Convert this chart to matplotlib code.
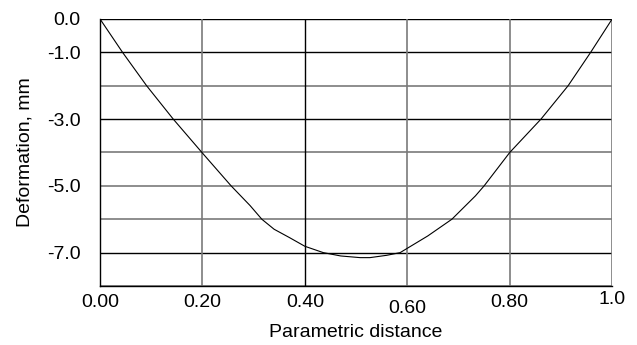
import matplotlib
matplotlib.use("Agg")
from matplotlib import pyplot as plt

plt.rcParams['font.family'] = ['Liberation Sans', 'DejaVu Sans']

# curve
dist = [0.0, 0.044, 0.091, 0.143, 0.199, 0.256, 0.293, 0.316, 0.34, 0.37,
        0.40, 0.436, 0.47, 0.508, 0.527, 0.56, 0.586, 0.60, 0.64, 0.687,
        0.733, 0.75, 0.80, 0.861, 0.914, 0.958, 1.0]
deform = [0.0, -1.0, -2.0, -3.0, -4.0, -5.0, -5.59, -6.0, -6.3, -6.55,
          -6.81, -7.0, -7.1, -7.15, -7.15, -7.08, -7.0, -6.87, -6.5, -6.0,
          -5.3, -5.0, -4.0, -3.0, -2.0, -1.0, 0.0]

x_ticks = [0.0, 0.2, 0.4, 0.6, 0.8, 1.0]
x_labels = ['0.00', '0.20', '0.40', '0.60', '0.80', '1.0']
y_ticks = [0.0, -1.0, -3.0, -5.0, -7.0]
y_labels = ['0.0', '-1.0', '-3.0', '-5.0', '-7.0']
y_grid = [0, -1, -2, -3, -4, -5, -6, -7, -8]
y_dark = [0, -1, -3, -7]
x_grid = [0.2, 0.4, 0.6, 0.8, 1.0]
x_dark = [0.4]

fig = plt.figure(figsize=(6.37, 3.45), dpi=100)
ax = fig.add_axes([0.157, 0.171, 0.804, 0.774])

for g in y_grid:
    ax.axhline(g, color='black' if g in y_dark else '#7a7a7a',
               lw=1.0 if g in y_dark else 1.2, zorder=1)
for g in x_grid:
    ax.axvline(g, color='black' if g in x_dark else '#7a7a7a',
               lw=1.0 if g in x_dark else 1.2, zorder=1)

ax.plot(dist, deform, color='black', lw=0.8, zorder=3)

ax.set_xlim(0, 1.0)
ax.set_ylim(-8, 0)
ax.set_xticks(x_ticks)
ax.set_xticklabels(x_labels, fontsize=14)
ax.set_yticks(y_ticks)
ax.set_yticklabels(y_labels, fontsize=14)
ax.tick_params(length=0)
ax.tick_params(axis='x', pad=6)
ax.tick_params(axis='y', pad=14)

# small offsets of single labels as in the picture
xl = ax.get_xticklabels()
xl[3].set_y(-0.02)
xl[5].set_y(0.012)

for s in ['top', 'right']:
    ax.spines[s].set_visible(False)
ax.spines['left'].set_linewidth(1.0)
ax.spines['bottom'].set_linewidth(1.0)

ax.set_xlabel('Parametric distance', fontsize=14, labelpad=5)
ax.set_ylabel('Deformation, mm', fontsize=14, labelpad=10)

fig.savefig('out.png', dpi=100)
